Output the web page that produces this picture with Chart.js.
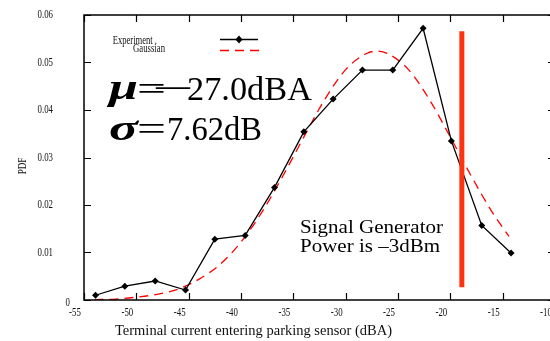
<!DOCTYPE html>
<html>
<head>
<meta charset="utf-8">
<script src="https://cdn.jsdelivr.net/npm/chart.js@4.4.1/dist/chart.umd.min.js"></script>
<style>
  html, body { margin: 0; padding: 0; background: #fff; overflow: hidden; }
  #wrap { width: 560px; height: 341px; }
</style>
</head>
<body>
<div id="wrap"><canvas id="pdfChart" width="560" height="341"></canvas></div>
<script>
// measured histogram (dBA -> PDF)
const expLevel = [-53.9, -51.1, -48.2, -45.3, -42.5, -39.6, -36.8, -34.0, -31.2, -28.4, -25.5, -22.6, -19.9, -17.0, -14.2];
const expPdf   = [0.0010, 0.0029, 0.0040, 0.0021, 0.0128, 0.0136, 0.0237, 0.0354, 0.0423, 0.0484, 0.0484, 0.0572, 0.0335, 0.0157, 0.0099];

// gaussian fit
const gaussLevel = [-54, -52, -50, -48, -46, -44, -42, -40, -38, -36, -34, -32, -30, -28, -27, -26, -24, -22, -20, -18, -16, -14.4];
const gaussPdf   = [0.0001, 0.0002, 0.0006, 0.0012, 0.0023, 0.0044, 0.0075, 0.0122, 0.0185, 0.0261, 0.0343, 0.0422, 0.0485, 0.0519, 0.0524, 0.0519, 0.0485, 0.0422, 0.0343, 0.0261, 0.0185, 0.0134];

// signal generator marker
const genLevel = [-18.9, -18.9];
const genPdf   = [0.0027, 0.0566];

const xTickLabels = ['-55', '-50', '-45', '-40', '-35', '-30', '-25', '-20', '-15', '-10'];
const yTickLabels = ['0', '0.01', '0.02', '0.03', '0.04', '0.05', '0.06'];

const pts = (xs, ys) => xs.map((x, i) => ({ x: x, y: ys[i] }));

const SERIF = '"Liberation Serif", "Times New Roman", serif';

// squeezed text, gnuplot fonts look condensed
function squeeze(ctx, txt, x, y, sx, align) {
  ctx.save();
  ctx.translate(x, y);
  ctx.scale(sx, 1);
  ctx.textAlign = align || 'left';
  ctx.fillText(txt, 0, 0);
  ctx.restore();
}
function fitText(ctx, txt, x, y, w) {
  const m = ctx.measureText(txt).width;
  squeeze(ctx, txt, x, y, w / m, 'left');
}

const gnuplotFrame = {
  id: 'gnuplotFrame',
  afterDatasetsDraw(chart) {
    const ctx = chart.ctx;
    const a = chart.chartArea;
    const xs = chart.scales.x, ys = chart.scales.y;
    const tl = 7;
    ctx.save();
    ctx.strokeStyle = '#000';
    ctx.lineWidth = 1.5;
    ctx.strokeRect(a.left, a.top, a.right - a.left, a.bottom - a.top);
    ctx.lineWidth = 1.2;
    ctx.beginPath();
    xs.ticks.forEach(t => {
      const px = Math.round(xs.getPixelForValue(t.value)) + 0.5;
      ctx.moveTo(px, a.bottom); ctx.lineTo(px, a.bottom - tl);
      ctx.moveTo(px, a.top); ctx.lineTo(px, a.top + tl);
    });
    ys.ticks.forEach(t => {
      const py = Math.round(ys.getPixelForValue(t.value)) + 0.5;
      ctx.moveTo(a.left, py); ctx.lineTo(a.left + tl, py);
      ctx.moveTo(a.right, py); ctx.lineTo(a.right - tl, py);
    });
    ctx.stroke();

    // tick labels
    ctx.fillStyle = '#111';
    ctx.font = '13px ' + SERIF;
    ctx.textBaseline = 'middle';
    xs.ticks.forEach((t, i) => {
      const px = xs.getPixelForValue(t.value);
      squeeze(ctx, xTickLabels[i], px - 9, a.bottom + 13, 0.68, 'center');
    });
    ys.ticks.forEach((t, i) => {
      const py = ys.getPixelForValue(t.value);
      if (i === 0) squeeze(ctx, yTickLabels[i], 70, py + 3, 0.68, 'right');
      else squeeze(ctx, yTickLabels[i], 53, py, 0.68, 'right');
    });

    // axis titles
    ctx.textBaseline = 'alphabetic';
    ctx.font = '15px ' + SERIF;
    fitText(ctx, 'Terminal current entering parking sensor (dBA)', 115, 335, 277);
    ctx.save();
    ctx.translate(26, 166);
    ctx.rotate(-Math.PI / 2);
    ctx.font = '13px ' + SERIF;
    squeeze(ctx, 'PDF', 0, 0, 0.7, 'center');
    ctx.restore();

    // key
    ctx.font = '13px ' + SERIF;
    squeeze(ctx, 'Experiment .', 157, 44, 0.66, 'right');
    squeeze(ctx, 'Gaussian', 165, 52, 0.67, 'right');
    ctx.lineWidth = 1.3;
    ctx.beginPath();
    ctx.moveTo(220, 39.5); ctx.lineTo(258, 39.5);
    ctx.stroke();
    ctx.beginPath();
    ctx.moveTo(239, 35.5); ctx.lineTo(242.5, 39.5); ctx.lineTo(239, 43.5); ctx.lineTo(235.5, 39.5);
    ctx.closePath();
    ctx.fillStyle = '#000';
    ctx.fill();
    ctx.strokeStyle = '#ff0000';
    ctx.setLineDash([9, 6]);
    ctx.beginPath();
    ctx.moveTo(220, 50.5); ctx.lineTo(259, 50.5);
    ctx.stroke();
    ctx.setLineDash([]);

    // annotations
    ctx.fillStyle = '#000';
    ctx.font = 'italic bold 36px ' + SERIF;
    fitText(ctx, '\u03bc', 109, 99, 29);
    fitText(ctx, '\u03c3', 109, 140, 29);
    ctx.font = '34px ' + SERIF;
    fitText(ctx, '=', 137, 100, 29);
    fitText(ctx, '\u2014', 156, 96, 34);
    fitText(ctx, '27.0dBA', 187, 100, 125);
    fitText(ctx, '=', 137, 140, 29);
    fitText(ctx, '7.62dB', 167, 140, 95);
    ctx.font = '19px ' + SERIF;
    fitText(ctx, 'Signal Generator', 300, 233, 143);
    fitText(ctx, 'Power is \u20133dBm', 300, 252, 140);
    ctx.restore();
  }
};

new Chart(document.getElementById('pdfChart'), {
  type: 'line',
  data: {
    datasets: [
      {
        label: 'Signal Generator',
        data: pts(genLevel, genPdf),
        borderColor: '#ff3311',
        borderWidth: 5,
        borderCapStyle: 'butt',
        pointRadius: 0,
        order: 0
      },
      {
        label: 'Experiment',
        data: pts(expLevel, expPdf),
        borderColor: '#000',
        borderWidth: 1.3,
        pointStyle: 'rectRot',
        pointRadius: 3.5,
        pointBackgroundColor: '#000',
        pointBorderColor: '#000',
        pointBorderWidth: 0,
        tension: 0,
        order: 1
      },
      {
        label: 'Gaussian',
        data: pts(gaussLevel, gaussPdf),
        borderColor: '#ff0000',
        borderWidth: 1.3,
        borderDash: [9, 6],
        pointRadius: 0,
        cubicInterpolationMode: 'monotone',
        order: 2
      }
    ]
  },
  options: {
    responsive: false,
    animation: false,
    devicePixelRatio: 1,
    layout: { padding: { top: 15, right: 5, left: 0, bottom: 0 } },
    plugins: {
      legend: { display: false },
      tooltip: { enabled: false }
    },
    scales: {
      x: {
        type: 'linear',
        min: -55, max: -10,
        ticks: { stepSize: 5, display: false },
        grid: { display: false },
        border: { display: false },
        afterFit(s) { s.height = 41; }
      },
      y: {
        min: 0, max: 0.06,
        ticks: { stepSize: 0.01, display: false },
        grid: { display: false },
        border: { display: false },
        afterFit(s) { s.width = 84; }
      }
    }
  },
  plugins: [gnuplotFrame]
});
</script>
</body>
</html>
